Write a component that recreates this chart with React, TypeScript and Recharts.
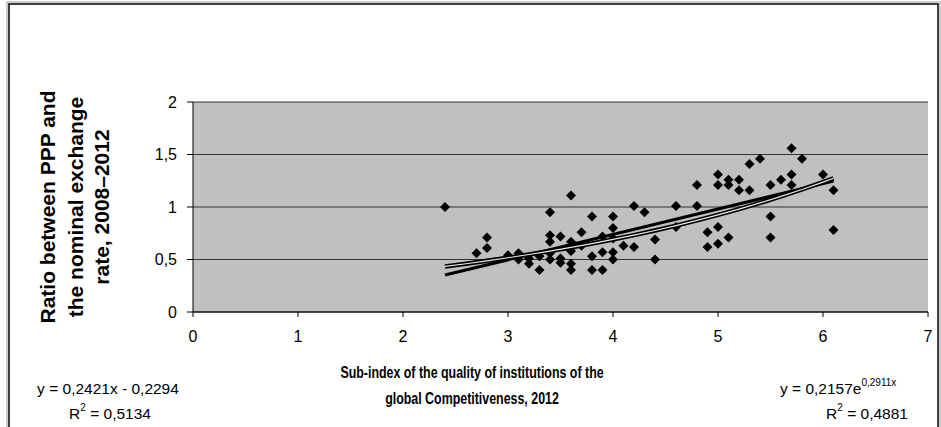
import React from "react";
import { ScatterChart, Scatter, XAxis, YAxis, CartesianGrid } from "recharts";

// Countries: sub-index of institutions (x) vs PPP / nominal exchange rate (y)
const xValues = [
  2.4, 2.7, 2.8, 2.8, 3.0, 3.1, 3.1, 3.2, 3.2, 3.3, 3.3, 3.4, 3.4, 3.4, 3.4, 3.4,
  3.5, 3.5, 3.5, 3.6, 3.6, 3.6, 3.6, 3.6, 3.7, 3.7, 3.8, 3.8, 3.8, 3.9, 3.9, 3.9,
  4.0, 4.0, 4.0, 4.0, 4.0, 4.1, 4.2, 4.2, 4.3, 4.4, 4.4, 4.6, 4.6, 4.8, 4.8, 4.9,
  4.9, 5.0, 5.0, 5.0, 5.0, 5.1, 5.1, 5.1, 5.2, 5.2, 5.3, 5.3, 5.4, 5.5, 5.5, 5.5,
  5.6, 5.7, 5.7, 5.7, 5.8, 6.0, 6.1, 6.1,
];
const yValues = [
  1.0, 0.56, 0.71, 0.61, 0.54, 0.56, 0.5, 0.51, 0.46, 0.53, 0.4, 0.95, 0.73, 0.67, 0.56, 0.5,
  0.72, 0.51, 0.47, 1.11, 0.67, 0.58, 0.46, 0.4, 0.76, 0.63, 0.91, 0.53, 0.4, 0.72, 0.57, 0.4,
  0.91, 0.8, 0.7, 0.57, 0.5, 0.63, 1.01, 0.62, 0.95, 0.69, 0.5, 1.01, 0.81, 1.21, 1.01, 0.76,
  0.62, 1.31, 1.21, 0.81, 0.65, 1.26, 1.21, 0.71, 1.26, 1.16, 1.41, 1.16, 1.46, 1.21, 0.91, 0.71,
  1.26, 1.56, 1.31, 1.21, 1.46, 1.31, 1.16, 0.78,
];

// trend line coefficients as printed on the chart
const linA = 0.2421;
const linB = -0.2294;
const expA = 0.2157;
const expB = 0.2911;
const trendXs = [2.4, 2.6, 2.8, 3.0, 3.2, 3.4, 3.6, 3.8, 4.0, 4.2, 4.4, 4.6, 4.8, 5.0, 5.2, 5.4, 5.6, 5.8, 6.0, 6.1];

const xTicks = [0, 1, 2, 3, 4, 5, 6, 7];
const yTicks = [0, 0.5, 1, 1.5, 2];

const points = xValues.map((x, i) => ({ x, y: yValues[i] }));
const linLine = [trendXs[0], trendXs[trendXs.length - 1]].map((x) => ({ x, y: linA * x + linB }));
const expLine = trendXs.map((x) => ({ x, y: expA * Math.exp(expB * x) }));

const font = "Arial, 'Liberation Sans', sans-serif";
const fmt = (v: number) => String(v).replace(".", ",");

const Diamond = (props: any) => {
  const { cx, cy } = props;
  const r = 5;
  return <polygon points={`${cx},${cy - r} ${cx + r},${cy} ${cx},${cy + r} ${cx - r},${cy}`} fill="#000" />;
};
const NoShape = () => <g />;

export default function App() {
  return (
    <div style={{ position: "absolute", left: 0, top: 0, width: 941, height: 427, background: "#fff", overflow: "hidden" }}>
      <ScatterChart width={941} height={427} margin={{ top: 102, right: 13, bottom: 85, left: 0 }}>
        <CartesianGrid horizontal vertical={false} fill="#C0C0C0" stroke="#333" />
        <XAxis
          type="number"
          dataKey="x"
          domain={[0, 7]}
          ticks={xTicks}
          height={30}
          tickSize={5}
          tickMargin={14}
          axisLine={{ stroke: "#000" }}
          tickLine={{ stroke: "#000" }}
          tick={{ fill: "#000", fontSize: 16, fontFamily: font }}
        />
        <YAxis
          type="number"
          dataKey="y"
          domain={[0, 2]}
          ticks={yTicks}
          width={193}
          tickSize={6}
          tickMargin={10}
          tickFormatter={fmt}
          axisLine={{ stroke: "#000" }}
          tickLine={{ stroke: "#000" }}
          tick={{ fill: "#000", fontSize: 16, fontFamily: font }}
        />
        <Scatter data={points} shape={Diamond} isAnimationActive={false} />
        <Scatter data={linLine} shape={NoShape} line={{ stroke: "#000", strokeWidth: 3 }} isAnimationActive={false} />
        <Scatter data={expLine} shape={NoShape} line={{ stroke: "#000", strokeWidth: 4.5 }} isAnimationActive={false} />
        <Scatter data={expLine} shape={NoShape} line={{ stroke: "#e8e8e8", strokeWidth: 1.2 }} isAnimationActive={false} />
      </ScatterChart>
      <svg width={941} height={427} style={{ position: "absolute", left: 0, top: 0, pointerEvents: "none" }}>
        <rect x={9} y={4} width={929} height={440} fill="none" stroke="#000" strokeWidth={1.5} />
        <rect x={7} y={2} width={933} height={440} fill="none" stroke="#999" strokeWidth={1} />
        <g fontFamily={font} fontWeight="bold" fontSize={21} fill="#000" textAnchor="middle" dominantBaseline="central">
          <text transform="translate(47,207) rotate(-90)">Ratio between PPP and</text>
          <text transform="translate(75,207) rotate(-90)">the nominal  exchange</text>
          <text transform="translate(101,207) rotate(-90)">rate, 2008–2012</text>
        </g>
        <g fontFamily={font} fontWeight="bold" fontSize={17} fill="#000" textAnchor="middle" dominantBaseline="central">
          <text transform="translate(472,372) scale(0.73,1)">Sub-index of the quality of institutions of the</text>
          <text transform="translate(472,398) scale(0.73,1)">global Competitiveness, 2012</text>
        </g>
        <g fontFamily={font} fontSize={15.5} fill="#000" dominantBaseline="central">
          <text x={108} y={388} textAnchor="middle">y = 0,2421x - 0,2294</text>
          <text x={110} y={413} textAnchor="middle">
            R<tspan dy={-6} fontSize={10}>2</tspan>
            <tspan dy={6}> = 0,5134</tspan>
          </text>
          <text x={780} y={388}>
            y = 0,2157e<tspan dy={-6} fontSize={10}>0,2911x</tspan>
          </text>
          <text x={867} y={413} textAnchor="middle">
            R<tspan dy={-6} fontSize={10}>2</tspan>
            <tspan dy={6}> = 0,4881</tspan>
          </text>
        </g>
      </svg>
    </div>
  );
}
